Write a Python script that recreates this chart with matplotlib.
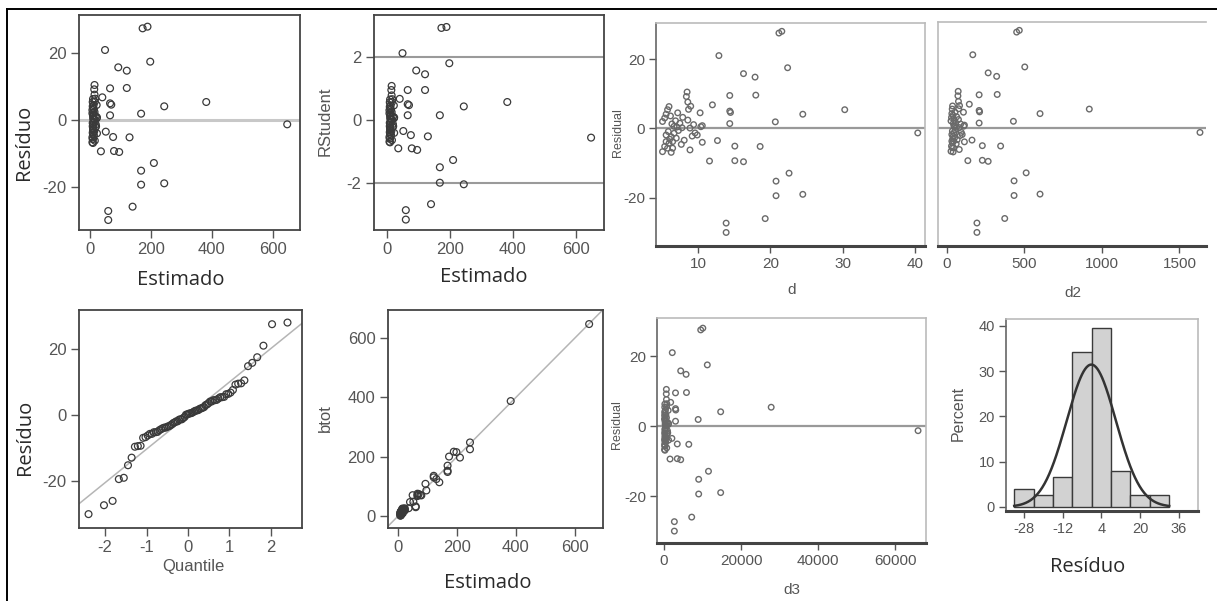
import statistics
import numpy as np
import matplotlib
matplotlib.use("Agg")
import matplotlib.pyplot as plt
from matplotlib import font_manager
from matplotlib.lines import Line2D

W, H = 1217, 601

# values (76 trees)
# first 29 = the spread points, the rest = the dense cluster near 0
estimado = [173, 189, 49.5, 198, 93, 121, 66, 121, 40.6, 66, 70, 244, 382, 66, 168,
            648, 52, 76, 130, 36, 79, 96, 210, 168, 168, 244, 140, 60, 60,
            15, 14, 15, 17, 16, 22, 10, 9, 12, 8, 8, 11, 12, 15, 11, 11, 13, 22, 23, 16,
            10, 13, 19, 10, 9, 20, 19, 9, 10, 11, 9, 10, 10, 14, 8, 9, 10, 8, 10, 16,
            23, 12, 11, 9, 13, 10, 18]
residuo = [27.5, 28.0, 21.0, 17.5, 15.8, 14.8, 9.5, 9.6, 6.8, 5.0, 4.6, 4.1, 5.4, 1.4, 1.9,
           -1.3, -3.5, -5.1, -5.2, -9.4, -9.3, -9.6, -12.9, -15.2, -19.4, -19.0, -26.0, -27.3, -30.0,
           10.5, 9.2, 7.6, 6.4, 5.5, 4.5, 6.3, 5.4, 4.5, 3.0, 2.0, 2.2, 1.5, 2.4, 0.6, 0.4, 0.2, 0.5,
           0.8, 0.1, 3.6, 3.2, 1.1, 1.3, 4.1, -1.9, -1.3, -1.9, -2.4, -1.4, -3.8, -4.3, -3.8, -3.4,
           -5.2, -5.7, -5.7, -6.7, -6.9, -6.2, -4.0, -0.6, -2.8, -0.9, -4.6, -3.1, -2.2]
rstudent = [2.92, 2.95, 2.12, 1.80, 1.57, 1.45, 0.95, 0.95, 0.67, 0.50, 0.47, 0.43, 0.57, 0.15, 0.15,
            -0.56, -0.35, -0.48, -0.52, -0.90, -0.90, -0.95, -1.27, -1.50, -1.99, -2.04, -2.67, -2.86, -3.16,
            1.08, 0.95, 0.78, 0.66, 0.57, 0.46, 0.65, 0.56, 0.46, 0.31, 0.21, 0.23, 0.15, 0.25, 0.06, 0.04,
            0.02, 0.05, 0.08, 0.01, 0.37, 0.33, 0.11, 0.13, 0.42, -0.20, -0.13, -0.20, -0.25, -0.14, -0.39,
            -0.44, -0.39, -0.35, -0.54, -0.59, -0.59, -0.69, -0.71, -0.64, -0.41, -0.06, -0.29, -0.09,
            -0.47, -0.32, -0.23]
d = [21.2, 21.6, 12.9, 22.4, 16.3, 17.9, 14.4, 18.0, 12.0, 14.4, 14.5, 24.5, 30.3, 14.4, 20.7,
     40.4, 12.7, 15.1, 18.6, 11.6, 15.1, 16.3, 22.6, 20.8, 20.8, 24.5, 19.3, 13.9, 13.9,
     8.5, 8.4, 8.6, 9.0, 8.7, 10.3, 6.0, 5.8, 7.2, 5.4, 5.1, 6.9, 7.5, 8.6, 6.7, 7.1, 7.8, 10.4,
     10.6, 8.9, 6.2, 7.9, 9.4, 6.4, 5.6, 9.9, 9.6, 5.6, 6.3, 6.7, 5.6, 6.0, 6.5, 8.1, 5.4, 5.8,
     6.5, 5.1, 6.3, 8.9, 10.6, 7.3, 7.0, 5.9, 7.7, 6.1, 9.2]

hist_bins = [-32, -24, -16, -8, 0, 8, 16, 24, 32]
hist_ticks = [-28, -12, 4, 20, 36]

est = np.array(estimado)
res = np.array(residuo)
rst = np.array(rstudent)
dd = np.array(d)
btot = est + res
n = len(res)

plt.rcParams["axes.unicode_minus"] = False


def has_font(name):
    try:
        font_manager.findfont(name, fallback_to_default=False)
        return True
    except Exception:
        return False


narrow = "Liberation Sans Narrow" if has_font("Liberation Sans Narrow") else "Liberation Sans"
big_font = dict(family="Open Sans", size=14.5, color="#2a2a2a")
sas_font = dict(family="Liberation Sans", size=12, color="#555555")
blur_font = dict(family=narrow, size=11, color="#555555")

fig = plt.figure(figsize=(W / 100, H / 100), dpi=100)


def make_axes(x0, y0, x1, y1):
    return fig.add_axes([x0 / W, 1 - y1 / H, (x1 - x0) / W, (y1 - y0) / H])


def label(x, y, text, font, rot=0):
    fig.text(x / W, 1 - y / H, text, ha="center", va="center", rotation=rot, **font)


def sas_style(ax):
    for s in ax.spines.values():
        s.set_color("#444444")
        s.set_linewidth(1.3)
    ax.tick_params(direction="out", length=6, width=1, color="#555555",
                   labelsize=12, labelcolor="#555555", pad=3)
    for t in ax.get_xticklabels() + ax.get_yticklabels():
        t.set_family("Liberation Sans")


def blur_style(ax, left=True):
    for s in ["top", "right"]:
        ax.spines[s].set_color("#bbbbbb")
        ax.spines[s].set_linewidth(1.2)
    ax.spines["left"].set_color("#666666" if left else "#bbbbbb")
    ax.spines["left"].set_linewidth(1.2)
    ax.spines["bottom"].set_color("#444444")
    ax.spines["bottom"].set_linewidth(2.2)
    ax.tick_params(direction="out", length=5, width=1, color="#555555",
                   labelsize=11, labelcolor="#555555", pad=3)
    for t in ax.get_xticklabels() + ax.get_yticklabels():
        t.set_family(narrow)


sas_pt = dict(s=24, facecolors="none", edgecolors="#3a3a3a", linewidths=0.9)
blur_pt = dict(s=16, facecolors="none", edgecolors="#6a6a6a", linewidths=1.0)

# ---- residuo x estimado
ax1 = make_axes(79, 15, 300, 230)
ax1.axhline(0, color="#c8c8c8", lw=2.2, zorder=1)
ax1.scatter(est, res, zorder=2, **sas_pt)
ax1.set_xlim(-36, 690)
ax1.set_ylim(-33, 31.5)
ax1.set_xticks([0, 200, 400, 600])
ax1.set_yticks([-20, 0, 20])
sas_style(ax1)
label(24, 142, "Resíduo", big_font, 90)
label(181, 280, "Estimado", big_font)

# ---- rstudent x estimado
ax2 = make_axes(374, 15, 604, 230)
ax2.axhline(2, color="#9a9a9a", lw=1.5, zorder=1)
ax2.axhline(-2, color="#9a9a9a", lw=1.5, zorder=1)
ax2.scatter(est, rst, zorder=2, **sas_pt)
ax2.set_xlim(-41, 689)
ax2.set_ylim(-3.49, 3.33)
ax2.set_xticks([0, 200, 400, 600])
ax2.set_yticks([-2, 0, 2])
sas_style(ax2)
label(325, 121, "RStudent", sas_font, 90)
label(484, 277, "Estimado", big_font)

# ---- residual x d
ax3 = make_axes(656, 23, 925, 246)
ax3.axhline(0, color="#999999", lw=1.6, zorder=1)
ax3.scatter(dd, res, zorder=2, **blur_pt)
ax3.set_xlim(4.2, 41.4)
ax3.set_ylim(-33.9, 30.4)
ax3.set_xticks([10, 20, 30, 40])
ax3.set_yticks([-20, 0, 20])
blur_style(ax3)
label(618, 133, "Residual", dict(blur_font, size=9), 90)
label(792, 290, "d", blur_font)

# ---- residual x d2
ax4 = make_axes(938, 22, 1206, 246)
ax4.axhline(0, color="#999999", lw=1.6, zorder=1)
ax4.scatter(dd ** 2, res, zorder=2, **blur_pt)
ax4.set_xlim(-58, 1671)
ax4.set_ylim(-33.9, 30.4)
ax4.set_xticks([0, 500, 1000, 1500])
ax4.set_yticks([])
blur_style(ax4, left=False)
ax4.spines["right"].set_visible(False)
label(1073, 293, "d2", blur_font)

# ---- normal quantile plot
ax5 = make_axes(79, 310, 302, 528)
nd = statistics.NormalDist()
quant = np.array([nd.inv_cdf((i + 1 - 0.375) / (n + 0.25)) for i in range(n)])
mu, sd = res.mean(), res.std(ddof=1)
qx = np.array([-2.63, 2.75])
ax5.plot(qx, mu + sd * qx, color="#b5b5b5", lw=1.1, zorder=1)
ax5.scatter(quant, np.sort(res), zorder=2, **sas_pt)
ax5.set_xlim(-2.63, 2.75)
ax5.set_ylim(-34.2, 31.8)
ax5.set_xticks([-2, -1, 0, 1, 2])
ax5.set_yticks([-20, 0, 20])
sas_style(ax5)
label(25, 437, "Resíduo", big_font, 90)
label(193, 567, "Quantile", sas_font)

# ---- btot x estimado
ax6 = make_axes(388, 310, 603, 528)
ax6.plot([-34, 695], [-34, 695], color="#b5b5b5", lw=1.1, zorder=1)
ax6.scatter(est, btot, zorder=2, **sas_pt)
ax6.set_xlim(-34, 695)
ax6.set_ylim(-40, 694)
ax6.set_xticks([0, 200, 400, 600])
ax6.set_yticks([0, 200, 400, 600])
sas_style(ax6)
label(325, 418, "btot", sas_font, 90)
label(488, 583, "Estimado", big_font)

# ---- residual x d3
ax7 = make_axes(657, 318, 926, 543)
ax7.axhline(0, color="#999999", lw=1.6, zorder=1)
ax7.scatter(dd ** 3, res, zorder=2, **blur_pt)
ax7.set_xlim(-1818, 68000)
ax7.set_ylim(-33.4, 30.9)
ax7.set_xticks([0, 20000, 40000, 60000])
ax7.set_xticklabels(["0", "20000", "40000", "60000"])
ax7.set_yticks([-20, 0, 20])
blur_style(ax7)
label(617, 425, "Residual", dict(blur_font, size=9), 90)
label(792, 590, "d3", blur_font)

# ---- histogram of residuals
ax8 = make_axes(1006, 319, 1198, 511)
ax8.hist(res, bins=hist_bins, weights=np.full(n, 100.0 / n),
         facecolor="#d2d2d2", edgecolor="#3a3a3a", linewidth=1.0)
gx = np.linspace(hist_bins[0], hist_bins[-1], 200)
bw = hist_bins[1] - hist_bins[0]
gy = 100.0 * bw * np.exp(-0.5 * ((gx - mu) / sd) ** 2) / (sd * np.sqrt(2 * np.pi))
ax8.plot(gx, gy, color="#333333", lw=1.8)
ax8.set_xlim(-35.4, 43.9)
ax8.set_ylim(-0.9, 41.5)
ax8.set_xticks(hist_ticks)
ax8.set_yticks([0, 10, 20, 30, 40])
blur_style(ax8)
ax8.tick_params(labelsize=10.5)
label(958, 413, "Percent", dict(sas_font, size=11.5), 90)
label(1088, 567, "Resíduo", big_font)

# outer frame of the composite
fig.add_artist(Line2D([7 / W, 1], [1 - 9 / H, 1 - 9 / H], color="black", lw=1.4,
                      transform=fig.transFigure))
fig.add_artist(Line2D([7 / W, 7 / W], [0, 1 - 9 / H], color="black", lw=1.4,
                      transform=fig.transFigure))

fig.savefig("out.png", dpi=100)
